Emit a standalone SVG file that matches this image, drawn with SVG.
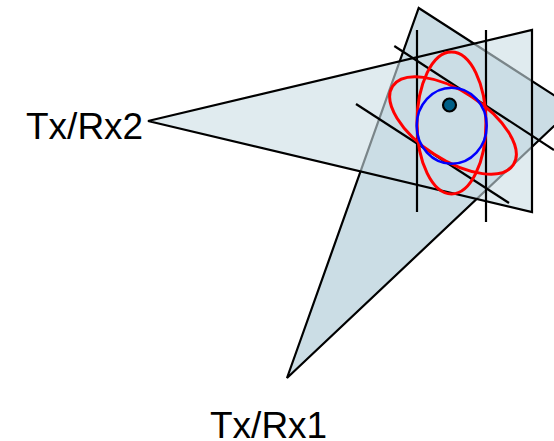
<svg xmlns="http://www.w3.org/2000/svg" width="554" height="441" viewBox="0 0 554 441">
<style>
.tri{stroke:#000;stroke-width:2.2;stroke-linejoin:miter}
.ln{stroke:#000;stroke-width:2.2;fill:none}
.red{stroke:#f00;stroke-width:3;fill:none}
text{font-family:"Liberation Sans",Arial,sans-serif;font-size:37px;fill:#000}
</style>
<rect width="554" height="441" fill="#fff"/>
<g id="beam1"><polygon class="tri" fill="#cbdde5" points="287,378 418.7,8 600,125 554,126"/></g>
<g id="beam2"><polygon class="tri" fill="#cbdde5" fill-opacity="0.6" points="148,121 532,30 532,212"/></g>
<g id="connectors">
<line class="ln" x1="417" y1="30" x2="417" y2="212"/>
<line class="ln" x1="486" y1="30" x2="486" y2="222"/>
<line class="ln" x1="394.3" y1="46" x2="554" y2="150"/>
<line class="ln" x1="356" y1="104" x2="509" y2="203"/>
</g>
<g id="ellipses">
<ellipse class="red" cx="451.5" cy="123" rx="34.5" ry="71"/>
<ellipse class="red" cx="453" cy="125.5" rx="72" ry="34.4" transform="rotate(33 453 125.5)"/>
<ellipse cx="451.7" cy="125.7" rx="35" ry="38" fill="none" stroke="#00f" stroke-width="2.5"/>
</g>
<g id="target"><circle cx="449.5" cy="105" r="6.5" fill="#005f87" stroke="#000" stroke-width="2.2"/></g>
<g id="tx2"><text x="26" y="139">Tx/Rx2</text></g>
<g id="tx1"><text x="210" y="438">Tx/Rx1</text></g>
</svg>
